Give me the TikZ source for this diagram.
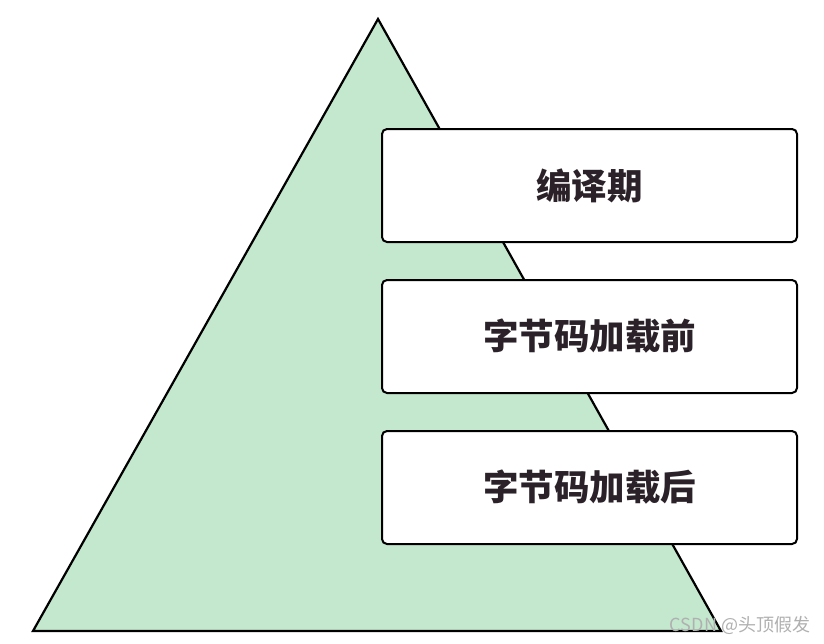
\documentclass[tikz,border=0pt]{standalone}
\usepackage{fontspec}
\newfontfamily\cjk{Noto Sans CJK SC}
\definecolor{tri}{HTML}{C3E8CE}
\definecolor{txt}{HTML}{2A2228}
\definecolor{wm}{HTML}{B0B0B0}
\tikzset{
  stagebox/.style={draw=black, line width=2pt, fill=white, rounded corners=5pt,
    minimum width=415pt, minimum height=113pt, inner sep=0pt, anchor=north west,
    font=\cjk\bfseries\fontsize{35.5}{40}\selectfont, text=txt},
}
\begin{document}
\begin{tikzpicture}[x=1pt,y=-1pt]
\useasboundingbox (0,0) rectangle (824,643);
\fill[white] (0,0) rectangle (824,643);
\coordinate (apex) at (378,19);
\coordinate (bl) at (33,631);
\coordinate (br) at (721,631);
\filldraw[fill=tri, draw=black, line width=2.2pt, line join=miter] (apex) -- (bl) -- (br) -- cycle;
\node[stagebox] (b1) at (381,128) {编译期};
\node[stagebox] (b2) at (381,279) {字节码加载前};
\node[stagebox] (b3) at (381,430) {字节码加载后};
\node[font=\cjk\fontsize{18}{20}\selectfont, text=wm, anchor=center] (wmk) at (740,625) {CSDN @头顶假发};
\end{tikzpicture}
\end{document}
